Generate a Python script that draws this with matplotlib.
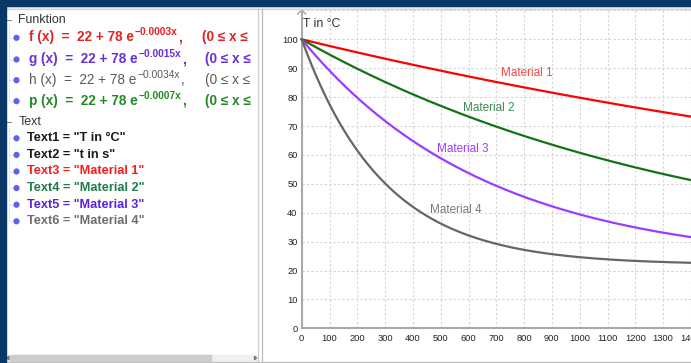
import numpy as np
import matplotlib
matplotlib.use("Agg")
import matplotlib.pyplot as plt
from matplotlib.patches import Rectangle, Circle, Polygon

plt.rcParams['font.family'] = ['Liberation Sans', 'DejaVu Sans']

# ---------------- data ----------------
T_ambient = 22
T_excess = 78
material_labels = ["Material 1", "Material 2", "Material 3", "Material 4"]
material_rates = [0.0003, 0.0007, 0.0015, 0.0034]
x_domain = [0, 1450]
x_ticks = list(range(0, 1500, 100))
y_ticks = list(range(0, 110, 10))
y_axis_label = "T in °C"

function_names = ["f", "g", "h", "p"]
function_rates = ["0.0003", "0.0015", "0.0034", "0.0007"]
text_entries = ['Text1 = "T in °C"', 'Text2 = "t in s"', 'Text3 = "Material 1"',
                'Text4 = "Material 2"', 'Text5 = "Material 3"', 'Text6 = "Material 4"']

# ---------------- styles ----------------
curve_colors = ['#ff0000', '#137313', '#9b3cff', '#666666']
label_colors = ['#ff4545', '#3f8a56', '#9b3cff', '#7a7a7a']
label_pos = [(717, 88.2), (580, 76.1), (486, 62.0), (462, 40.8)]
func_colors = ['#e32222', '#6a2fd8', '#5a5a5a', '#238a23']
func_weights = ['bold', 'bold', 'normal', 'bold']
text_colors = ['#1a1a1a', '#1a1a1a', '#ff1a1a', '#1e7a46', '#5a22dd', '#6e6e6e']

W, H = 691, 363
fig = plt.figure(figsize=(W / 100, H / 100), dpi=100)
fig.patch.set_facecolor('white')

# ---------------- graphics view ----------------
gx0, gx1, gy0, gy1 = 262, 691, 9, 361
ox, oy = 301.7, 328.3
sx, sy = 0.278, 2.89
ax = fig.add_axes([gx0 / W, 1 - gy1 / H, (gx1 - gx0) / W, (gy1 - gy0) / H])
ax.set_zorder(1)
xl, xr = (gx0 - ox) / sx, (gx1 - ox) / sx
yb, yt = (oy - gy1) / sy, (oy - gy0) / sy
ax.set_xlim(xl, xr)
ax.set_ylim(yb, yt)
ax.set_facecolor('white')

ax.vlines(x_ticks[1:], 0, yt, colors='#d4d4d4', linewidth=0.8, linestyles=(0, (2, 2)), zorder=1)
ax.hlines(y_ticks[1:] + [110], 0, xr, colors='#d4d4d4', linewidth=0.8, linestyles=(0, (2, 2)), zorder=1)

for s in ['top', 'right']:
    ax.spines[s].set_visible(False)
for s in ['left', 'bottom']:
    ax.spines[s].set_position(('data', 0))
    ax.spines[s].set_color('#a9a9a9')
    ax.spines[s].set_linewidth(1.5)
    ax.spines[s].set_zorder(2)
ax.spines['left'].set_bounds(0, (oy - 10) / sy)
ax.spines['bottom'].set_bounds(0, xr)
ax.set_xticks(x_ticks)
ax.set_yticks(y_ticks)
ax.set_xticklabels([str(v) for v in x_ticks])
ax.set_yticklabels([str(v) for v in y_ticks])
ax.tick_params(length=0, labelsize=6.7, labelcolor='#222222')
ax.tick_params(axis='x', pad=4.2)
ax.tick_params(axis='y', pad=3.0)

# arrow head on y-axis
tip = (oy - 10) / sy
ax.plot([-4 / sx, 0, 4 / sx], [tip - 4 / sy, tip, tip - 4 / sy], color='#a9a9a9',
        linewidth=1.1, clip_on=False, zorder=2)

xs = np.linspace(x_domain[0], x_domain[1], 600)
for k, c in zip(material_rates, curve_colors):
    ax.plot(xs, T_ambient + T_excess * np.exp(-k * xs), color=c, linewidth=1.6, zorder=3)

for lab, c, (lx, ly) in zip(material_labels, label_colors, label_pos):
    ax.text(lx, ly, lab, color=c, fontsize=8.5, ha='left', va='center', zorder=4)

ax.text((303.3 - ox) / sx, (oy - 24.3) / sy, y_axis_label, color='#333333', fontsize=8.8,
        ha='left', va='center', zorder=4)

# ---------------- algebra view ----------------
pl, pr, pt, pb = 6, 258.5, 9, 353
pax = fig.add_axes([pl / W, 1 - pb / H, (pr - pl) / W, (pb - pt) / H])
pax.set_xlim(pl, pr)
pax.set_ylim(pb, pt)
pax.axis('off')
pax.set_zorder(1)

fig.canvas.draw()
rend = fig.canvas.get_renderer()


def put(x, y, s, **kw):
    t = pax.text(x, y, s, va='baseline', ha='left', clip_on=True, **kw)
    bb = t.get_window_extent(renderer=rend)
    return x + bb.width


def header(y, label):
    pax.plot([6.5, 10.5], [y, y], color='#8a8a8a', linewidth=0.8)
    pax.text(18.3, y, label, fontsize=8.9, color='#333333', va='center', ha='left')


def bullet(y):
    pax.add_patch(Circle((16.5, y), 2.4, color='#5f5ff5', zorder=3))
    pax.plot([8.5, 13], [y, y], color='#c8c8c8', linewidth=0.6, linestyle=(0, (1, 1)))


header(20, "Funktion")
fy = [37.8, 59.5, 80.2, 101.2]
pax.plot([8.5, 8.5], [24, fy[-1]], color='#c8c8c8', linewidth=0.6, linestyle=(0, (1, 1)))
for name, rate, c, w, y in zip(function_names, function_rates, func_colors, func_weights, fy):
    bullet(y)
    base = y + 3.6
    x = put(29.3, base, f"{name} (x)  =  22 + 78 e", fontsize=9.8, color=c, fontweight=w)
    x = put(x + 0.5, base - 6.0, f"\u2212{rate}x", fontsize=7.4, color=c, fontweight=w)
    put(x + 0.8, base, ",", fontsize=9.8, color=c, fontweight=w)
    put(202 if name == 'f' else 205, base, "(0 \u2264 x \u2264", fontsize=9.8, color=c,
        fontweight=w)

header(121.7, "Text")
ty = [138.3, 154.9, 171.5, 188.1, 204.7, 221.3]
pax.plot([8.5, 8.5], [126, ty[-1]], color='#c8c8c8', linewidth=0.6, linestyle=(0, (1, 1)))
for s, c, y in zip(text_entries, text_colors, ty):
    bullet(y)
    pax.text(26.7, y, s, fontsize=9.2, fontweight='bold', color=c, va='center', ha='left',
             clip_on=True)

# ---------------- chrome overlay ----------------
ov = fig.add_axes([0, 0, 1, 1])
ov.set_xlim(0, W)
ov.set_ylim(H, 0)
ov.axis('off')
ov.patch.set_alpha(0)
ov.set_zorder(5)
ov.add_patch(Rectangle((0, 6), W, 3, color='#e8e8e8', zorder=1))
ov.plot([6, W], [9, 9], color='#d2d2d2', linewidth=0.7)
ov.add_patch(Rectangle((0, 0), W, 6, color='#0b3768', zorder=3))
ov.add_patch(Rectangle((0, 0), 6, H, color='#0b3768', zorder=3))
ov.plot([258.5, 258.5], [9, 362], color='#cfcfcf', linewidth=0.9)
ov.plot([262.5, 262.5], [9, 362], color='#b9b9b9', linewidth=0.9)
ov.plot([6, W], [361.7, 361.7], color='#bdbdbd', linewidth=0.9)
# scrollbar
ov.add_patch(Rectangle((6, 354.5), 252, 7, color='#f0f0f0', zorder=1))
ov.add_patch(Rectangle((10, 354.8), 201, 6.4, color='#cdcdcd', zorder=2))
ov.add_patch(Polygon([[9, 356.2], [9, 359.8], [7, 358]], color='#7a7a7a', zorder=2))
ov.add_patch(Polygon([[254.5, 356.2], [254.5, 359.8], [256.5, 358]], color='#7a7a7a', zorder=2))

fig.savefig('out.png', dpi=100)
